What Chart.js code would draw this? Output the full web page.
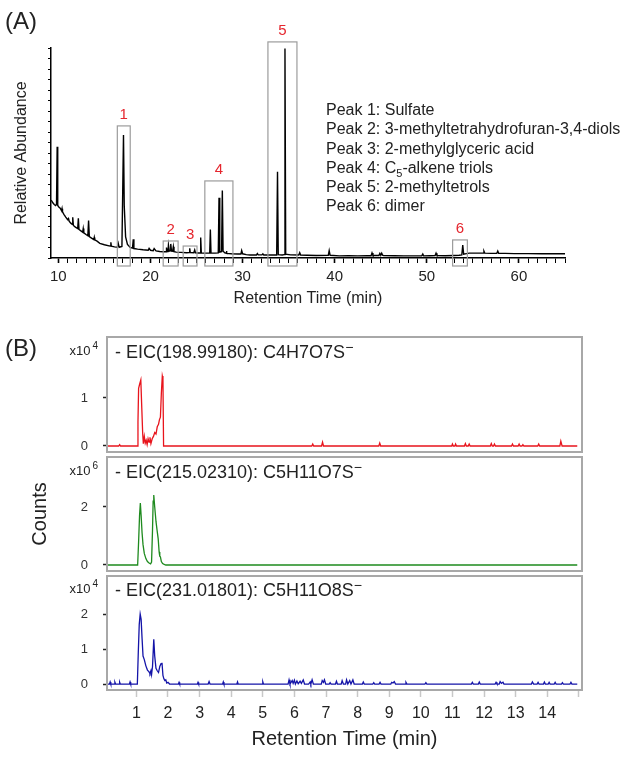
<!DOCTYPE html>
<html>
<head>
<meta charset="utf-8">
<script src="https://cdn.jsdelivr.net/npm/chart.js@4.4.1/dist/chart.umd.min.js"></script>
<style>
  body { margin: 0; background: #fff; }
  #page { position: relative; width: 624px; height: 759px; overflow: hidden;
          font-family: 'Liberation Sans', Arial, sans-serif; color: #222; }
  canvas { position: absolute; left: 0; }
  .txt { position: absolute; white-space: nowrap; z-index: 2; }
  .panel { font-size: 24px; line-height: 28px; }
  .peaks { font-size: 16px; line-height: 19.3px; }
  .exp { font-size: 13px; line-height: 16px; text-align: right; }
  .exp sup { font-size: 10px; line-height: 0; vertical-align: 6px; margin-left: 2px; }
  .eic { font-size: 18px; line-height: 22px; }
  .eic sup { font-size: 14px; line-height: 0; vertical-align: 6px; }
  sub { font-size: 11px; line-height: 0; }
</style>
</head>
<body>
<div id="page">
  <canvas id="chartA" width="624" height="320" style="top:0"></canvas>
  <canvas id="chartB1" width="624" height="155" style="top:317px"></canvas>
  <canvas id="chartB2" width="624" height="154" style="top:437px"></canvas>
  <canvas id="chartB3" width="624" height="203" style="top:556px"></canvas>

  <div class="txt panel" style="left:5px;top:7px">(A)</div>
  <div class="txt panel" style="left:5px;top:334px">(B)</div>
  <div class="txt peaks" style="left:326px;top:100px">
    Peak 1: Sulfate<br>
    Peak 2: 3-methyltetrahydrofuran-3,4-diols<br>
    Peak 3: 2-methylglyceric acid<br>
    Peak 4: C<sub>5</sub>-alkene triols<br>
    Peak 5: 2-methyltetrols<br>
    Peak 6: dimer
  </div>
  <div class="txt exp" style="right:526px;top:343px">x10<sup>4</sup></div>
  <div class="txt exp" style="right:526px;top:463px">x10<sup>6</sup></div>
  <div class="txt exp" style="right:526px;top:581px">x10<sup>4</sup></div>
  <div class="txt eic" style="left:115px;top:341px">- EIC(198.99180): C4H7O7S<sup>−</sup></div>
  <div class="txt eic" style="left:115px;top:461px">- EIC(215.02310): C5H11O7S<sup>−</sup></div>
  <div class="txt eic" style="left:115px;top:579px">- EIC(231.01801): C5H11O8S<sup>−</sup></div>
</div>
<script>
const FONT = "'Liberation Sans', Arial, sans-serif";
Chart.defaults.font.family = FONT;
Chart.defaults.color = '#222';

// (A) total chromatogram: [retention time (min), relative abundance]
const chromA = [
  [9.22, 27.6], [9.4, 26.3], [9.55, 25.5], [9.7, 25], [9.8, 25.5], [9.87, 53], [9.93, 25],
  [10.05, 24.3], [10.2, 23.7], [10.35, 22.5], [10.4, 23.5], [10.45, 22], [10.6, 20.8],
  [10.8, 19.5], [11.0, 18.3], [11.1, 18.8], [11.17, 17.5], [11.35, 16.6], [11.5, 16],
  [11.56, 19.4], [11.63, 15.5], [11.85, 14.7], [12.1, 14], [12.17, 18.9], [12.24, 13.6],
  [12.45, 12.9], [12.64, 12.3], [12.7, 14], [12.76, 12], [13.0, 11.2], [13.2, 10.6],
  [13.28, 17.8], [13.36, 10.2], [13.6, 9.5], [13.85, 8.8], [13.9, 9.8], [13.95, 8.6],
  [14.2, 8.0], [14.5, 7.0], [15.0, 6.3], [15.5, 5.8], [15.65, 5.7], [15.7, 7.5], [15.75, 5.6],
  [16.1, 5.3], [16.4, 5.1], [16.5, 7.0], [16.6, 5.1], [16.9, 5.5], [16.98, 30], [17.07, 58.6],
  [17.15, 25], [17.3, 10], [17.5, 6.5], [17.8, 5.0], [18.05, 4.7], [18.13, 8.9], [18.2, 4.5],
  [18.6, 4.2], [19.2, 3.9], [19.75, 3.7], [19.85, 4.6], [20.0, 3.7], [20.3, 3.5], [20.4, 4.5],
  [20.6, 3.4], [21.0, 3.1], [21.4, 3.0], [21.7, 3.0], [21.74, 5.0], [21.8, 3.1], [21.9, 3.2],
  [21.95, 6.2], [22.05, 3.3], [22.15, 3.4], [22.2, 6.7], [22.28, 3.3], [22.4, 3.2], [22.48, 5.4],
  [22.55, 3.0], [22.8, 2.8], [23.3, 2.7], [23.9, 2.5], [24.2, 2.6], [24.26, 4.6], [24.32, 2.6],
  [24.7, 2.5], [24.8, 3.8], [24.88, 2.5], [25.2, 2.4], [25.38, 2.4], [25.45, 9.8], [25.52, 2.4],
  [25.9, 2.3], [26.43, 2.3], [26.5, 13.6], [26.57, 2.4], [27.0, 2.3], [27.36, 2.4], [27.44, 28.7],
  [27.52, 2.8], [27.72, 3.0], [27.8, 32.1], [27.88, 3.2], [28.1, 2.4], [28.2, 2.4], [28.24, 3.3],
  [28.3, 2.2], [28.8, 2.0], [29.5, 1.9], [29.82, 1.9], [29.9, 3.5], [30.0, 2.0], [30.4, 1.6],
  [30.8, 1.4], [31.5, 1.4], [31.6, 2.1], [31.7, 1.5], [32.1, 1.5], [32.2, 2.0], [32.3, 1.4],
  [32.8, 1.4], [33.7, 1.4], [33.79, 41.1], [33.87, 1.6], [34.3, 1.4], [34.52, 1.6], [34.6, 99.8],
  [34.68, 1.8], [35.2, 1.5], [36.1, 1.4], [36.2, 2.5], [36.3, 1.4], [37.0, 1.3], [38.0, 1.2],
  [39.3, 1.3], [39.4, 3.5], [39.5, 1.3], [40.5, 1.0], [41.5, 1.1], [42.5, 1.0], [43.5, 1.1],
  [43.95, 1.1], [44.05, 2.4], [44.15, 1.2], [44.8, 1.2], [44.9, 2.2], [45.0, 1.3], [45.1, 2.3],
  [45.2, 1.3], [45.3, 1.2], [46.5, 1.1], [47.5, 1.0], [48.5, 1.0], [49.45, 1.0], [49.56, 1.9],
  [49.65, 1.0], [50.3, 1.1], [50.9, 1.2], [51.0, 2.3], [51.1, 1.2], [52.0, 1.1], [52.9, 1.2],
  [53.5, 1.3], [53.8, 1.5], [53.9, 6.2], [54.0, 1.8], [54.3, 2.1], [54.6, 2.3], [55.3, 2.3],
  [56.1, 2.3], [56.2, 3.3], [56.3, 2.3], [57.0, 2.2], [57.6, 2.2], [57.7, 3.3], [57.8, 2.2],
  [58.5, 2.2], [59.5, 2.1], [61, 2.1], [62.5, 2.0], [64, 2.0], [65, 2.0]
];
const aTickLabels = [10, 20, 30, 40, 50, 60];

// peak windows marked in (A)
const peakNames = ['1', '2', '3', '4', '5', '6'];
const peakStart = [16.4, 21.38, 23.55, 25.9, 32.75, 52.8];
const peakEnd = [17.8, 23.0, 25.05, 28.95, 35.9, 54.4];
const peakTop = [62.9, 8.1, 5.7, 36.7, 102.9, 8.6];

// (B) extracted ion chromatograms: [retention time (min), counts in the panel's unit]
const eic199 = [
  [0.1, 0], [0.44, 0], [0.47, 0.03], [0.5, 0], [1.03, 0], [1.05, 0.5], [1.07, 1.2], [1.1, 1.28],
  [1.14, 1.375], [1.17, 0.8], [1.2, 0.25], [1.22, 0.05], [1.25, 0.2], [1.28, 0.06], [1.31, 0.12],
  [1.34, 0.03], [1.37, 0.15], [1.4, 0.08], [1.43, 0.18], [1.46, 0.05], [1.5, 0.15], [1.54, 0.2],
  [1.58, 0.28], [1.62, 0.25], [1.66, 0.4], [1.7, 0.45], [1.73, 0.55], [1.76, 0.6], [1.79, 1.1],
  [1.82, 1.46], [1.84, 1.4], [1.86, 0], [6.55, 0], [6.58, 0.04], [6.61, 0], [6.86, 0],
  [6.89, 0.08], [6.92, 0], [8.67, 0], [8.7, 0.06], [8.73, 0], [10.98, 0], [11.0, 0.04],
  [11.03, 0], [11.08, 0], [11.1, 0.04], [11.13, 0], [11.38, 0], [11.41, 0.05], [11.44, 0],
  [11.5, 0], [11.53, 0.04], [11.56, 0], [12.2, 0], [12.23, 0.05], [12.26, 0], [12.3, 0],
  [12.33, 0.04], [12.36, 0], [12.87, 0], [12.9, 0.04], [12.93, 0], [13.08, 0], [13.11, 0.04],
  [13.14, 0], [13.2, 0], [13.23, 0.03], [13.26, 0], [13.7, 0], [13.73, 0.04], [13.76, 0],
  [14.4, 0], [14.43, 0.1], [14.47, 0], [14.95, 0]
];
const eic215 = [
  [0.1, 0], [1.04, 0], [1.07, 0.8], [1.1, 1.7], [1.125, 2.13], [1.15, 1.7], [1.18, 1.1],
  [1.21, 0.7], [1.25, 0.4], [1.3, 0.22], [1.35, 0.12], [1.4, 0.07], [1.45, 0.04], [1.48, 0.1],
  [1.51, 1.2], [1.53, 2.2], [1.55, 2.41], [1.58, 2.0], [1.62, 1.5], [1.66, 1.15], [1.69, 0.9],
  [1.72, 0.45], [1.74, 0.3], [1.76, 0.28], [1.79, 0.12], [1.83, 0.05], [1.88, 0.02], [1.93, 0],
  [14.95, 0]
];
const eic231 = [
  [0.1, 0], [0.15, 0], [0.17, 0.06], [0.19, 0], [0.3, 0], [0.32, 0.05], [0.34, 0], [0.45, 0],
  [0.47, 0.05], [0.49, 0], [0.78, 0], [0.8, 0.06], [0.82, 0], [1.03, 0], [1.06, 0.9], [1.09, 1.7],
  [1.12, 2.0], [1.15, 1.85], [1.18, 1.3], [1.21, 0.8], [1.25, 0.7], [1.3, 0.52], [1.35, 0.4],
  [1.4, 0.35], [1.43, 0.3], [1.46, 0.38], [1.48, 0.27], [1.51, 0.5], [1.55, 1.28], [1.58, 0.8],
  [1.62, 0.45], [1.66, 0.38], [1.7, 0.33], [1.74, 0.5], [1.78, 0.58], [1.81, 0.61], [1.84, 0.25],
  [1.87, 0.15], [1.9, 0.1], [1.93, 0.12], [1.96, 0.03], [2.0, 0.05], [2.05, 0], [2.33, 0],
  [2.35, 0.05], [2.37, 0], [2.93, 0], [2.95, 0.05], [2.97, 0], [3.27, 0], [3.3, 0.07], [3.33, 0],
  [3.73, 0], [3.75, 0.06], [3.77, 0], [4.18, 0], [4.2, 0.06], [4.22, 0], [4.98, 0], [5.0, 0.06],
  [5.02, 0], [5.8, 0], [5.83, 0.12], [5.86, 0], [5.93, 0.1], [5.96, 0.02], [6.0, 0.11], [6.03, 0],
  [6.08, 0.09], [6.12, 0.01], [6.18, 0.08], [6.22, 0.02], [6.28, 0.12], [6.32, 0], [6.45, 0],
  [6.5, 0.06], [6.52, 0], [6.56, 0.12], [6.6, 0], [6.85, 0], [6.88, 0.1], [6.92, 0.05],
  [6.95, 0.12], [6.99, 0], [7.1, 0], [7.13, 0.04], [7.16, 0], [7.3, 0], [7.33, 0.08], [7.36, 0],
  [7.48, 0], [7.51, 0.1], [7.55, 0], [7.62, 0], [7.65, 0.12], [7.69, 0], [7.75, 0.1], [7.79, 0],
  [7.85, 0.12], [7.89, 0], [8.15, 0], [8.18, 0.06], [8.21, 0], [8.48, 0], [8.51, 0.04], [8.54, 0],
  [8.68, 0], [8.71, 0.05], [8.74, 0], [9.05, 0], [9.08, 0.05], [9.12, 0.03], [9.16, 0.07],
  [9.2, 0], [9.5, 0], [9.53, 0.05], [9.56, 0], [10.13, 0], [10.16, 0.04], [10.19, 0], [11.6, 0],
  [11.63, 0.05], [11.66, 0], [11.82, 0], [11.85, 0.06], [11.88, 0], [12.35, 0], [12.38, 0.05],
  [12.41, 0], [12.48, 0], [12.51, 0.07], [12.55, 0.02], [12.6, 0.05], [12.63, 0], [13.5, 0],
  [13.53, 0.06], [13.57, 0], [13.68, 0], [13.71, 0.05], [13.74, 0], [13.88, 0], [13.91, 0.06],
  [13.94, 0], [14.03, 0], [14.06, 0.05], [14.09, 0], [14.22, 0], [14.25, 0.05], [14.28, 0],
  [14.45, 0], [14.48, 0.04], [14.51, 0], [14.72, 0], [14.75, 0.05], [14.78, 0], [14.95, 0]
];
const bTimeTicks = [1, 2, 3, 4, 5, 6, 7, 8, 9, 10, 11, 12, 13, 14, 15];
const bTimeLabels = [1, 2, 3, 4, 5, 6, 7, 8, 9, 10, 11, 12, 13, 14];
const b1Ticks = [0, 1];
const b2Ticks = [0, 2];
const b3Ticks = [0, 1, 2];

const toPoints = rows => rows.map(r => ({ x: r[0], y: r[1] }));

// gray boxes + red numbers around the peak windows
const peakBoxes = {
  id: 'peakBoxes',
  afterDatasetsDraw(chart) {
    const { ctx, chartArea, scales: { x, y } } = chart;
    ctx.save();
    ctx.strokeStyle = '#9c9c9c';
    ctx.lineWidth = 1.2;
    ctx.fillStyle = '#e5262e';
    ctx.font = '15px ' + FONT;
    ctx.textAlign = 'center';
    ctx.textBaseline = 'bottom';
    peakNames.forEach((name, i) => {
      const x1 = x.getPixelForValue(peakStart[i]);
      const x2 = x.getPixelForValue(peakEnd[i]);
      const top = y.getPixelForValue(peakTop[i]);
      const bottom = chartArea.bottom + 8;
      ctx.strokeRect(x1, top, x2 - x1, bottom - top);
      ctx.fillText(name, (x1 + x2) / 2, top - 4);
    });
    ctx.restore();
  }
};

// light gray frame round each EIC panel
const frame = {
  id: 'frame',
  afterDatasetsDraw(chart) {
    const { ctx, chartArea: a } = chart;
    ctx.save();
    ctx.strokeStyle = '#a8a8a8';
    ctx.lineWidth = 2;
    ctx.strokeRect(a.left, a.top, a.right - a.left, a.bottom - a.top);
    ctx.restore();
  }
};

new Chart(document.getElementById('chartA'), {
  type: 'line',
  data: {
    datasets: [{
      data: toPoints(chromA),
      borderColor: '#000',
      borderWidth: 1.4,
      pointRadius: 0,
      tension: 0
    }]
  },
  options: {
    responsive: false,
    animation: false,
    layout: { padding: { left: 0, right: 59, top: 48, bottom: 12 } },
    plugins: { legend: { display: false }, tooltip: { enabled: false } },
    scales: {
      x: {
        type: 'linear',
        min: 9.2,
        max: 65,
        afterBuildTicks: s => {
          const ticks = [];
          for (let v = Math.ceil(s.min); v <= s.max; v++) ticks.push({ value: v });
          s.ticks = ticks;
        },
        afterFit: s => { s.height = 50; },
        ticks: {
          autoSkip: false,
          maxRotation: 0,
          padding: 5,
          font: { size: 15 },
          callback: v => aTickLabels.includes(v) ? v : ''
        },
        grid: {
          drawOnChartArea: false,
          tickLength: 5,
          tickColor: '#000',
          tickWidth: c => (c.tick && aTickLabels.includes(c.tick.value)) ? 1.6 : 1
        },
        border: { color: '#000', width: 1.5 },
        title: { display: true, text: 'Retention Time (min)', font: { size: 16 }, padding: { top: 0, bottom: 0 } }
      },
      y: {
        min: 0,
        max: 100,
        afterFit: s => { s.width = 51; },
        ticks: { display: false, stepSize: 5 },
        grid: { drawOnChartArea: false, tickLength: 3, tickColor: '#000' },
        border: { color: '#000', width: 1.5 },
        title: { display: true, text: 'Relative Abundance', font: { size: 16 }, padding: { top: 12, bottom: 0 } }
      }
    }
  },
  plugins: [peakBoxes]
});

function eicChart(id, rows, color, yMin, yMax, yTicks, extra) {
  const showX = !!extra.showX;
  return new Chart(document.getElementById(id), {
    type: 'line',
    data: {
      datasets: [{
        data: toPoints(rows),
        borderColor: color,
        borderWidth: 1.3,
        pointRadius: 0,
        tension: 0
      }]
    },
    options: {
      responsive: false,
      animation: false,
      layout: { padding: { left: 0, right: 42, top: 20, bottom: showX ? 0 : 20 } },
      plugins: { legend: { display: false }, tooltip: { enabled: false } },
      scales: {
        x: {
          type: 'linear',
          min: 0.07,
          max: 15.1,
          display: showX,
          afterBuildTicks: s => { s.ticks = bTimeTicks.map(v => ({ value: v })); },
          afterFit: s => { s.height = showX ? 69 : 0; },
          ticks: {
            autoSkip: false,
            maxRotation: 0,
            padding: 7,
            font: { size: 16 },
            callback: v => bTimeLabels.includes(v) ? v : ''
          },
          grid: { drawOnChartArea: false, tickLength: 7, tickColor: '#c8c8c8', tickWidth: 1.5 },
          border: { display: false },
          title: { display: true, text: 'Retention Time (min)', font: { size: 20 }, padding: { top: 0, bottom: 8 } }
        },
        y: {
          min: yMin,
          max: yMax,
          afterBuildTicks: s => { s.ticks = yTicks.map(v => ({ value: v })); },
          afterFit: s => { s.width = 107; },
          ticks: { padding: 12, font: { size: 13 }, color: '#333' },
          grid: {
            drawOnChartArea: false,
            tickLength: 7,
            tickColor: '#222',
            tickWidth: 1.5,
            tickBorderDash: [4, 20],
            tickBorderDashOffset: 21
          },
          border: { display: false },
          title: {
            display: !!extra.yTitle,
            text: extra.yTitle || '',
            font: { size: 20 },
            padding: { top: 28, bottom: 0 }
          }
        }
      }
    },
    plugins: [frame]
  });
}

eicChart('chartB1', eic199, '#e8141c', -0.125, 2.27, b1Ticks, {});
eicChart('chartB2', eic215, '#1e8a1e', -0.207, 3.72, b2Ticks, { yTitle: 'Counts' });
eicChart('chartB3', eic231, '#1414a8', -0.17, 3.09, b3Ticks, { showX: true });
</script>
</body>
</html>
